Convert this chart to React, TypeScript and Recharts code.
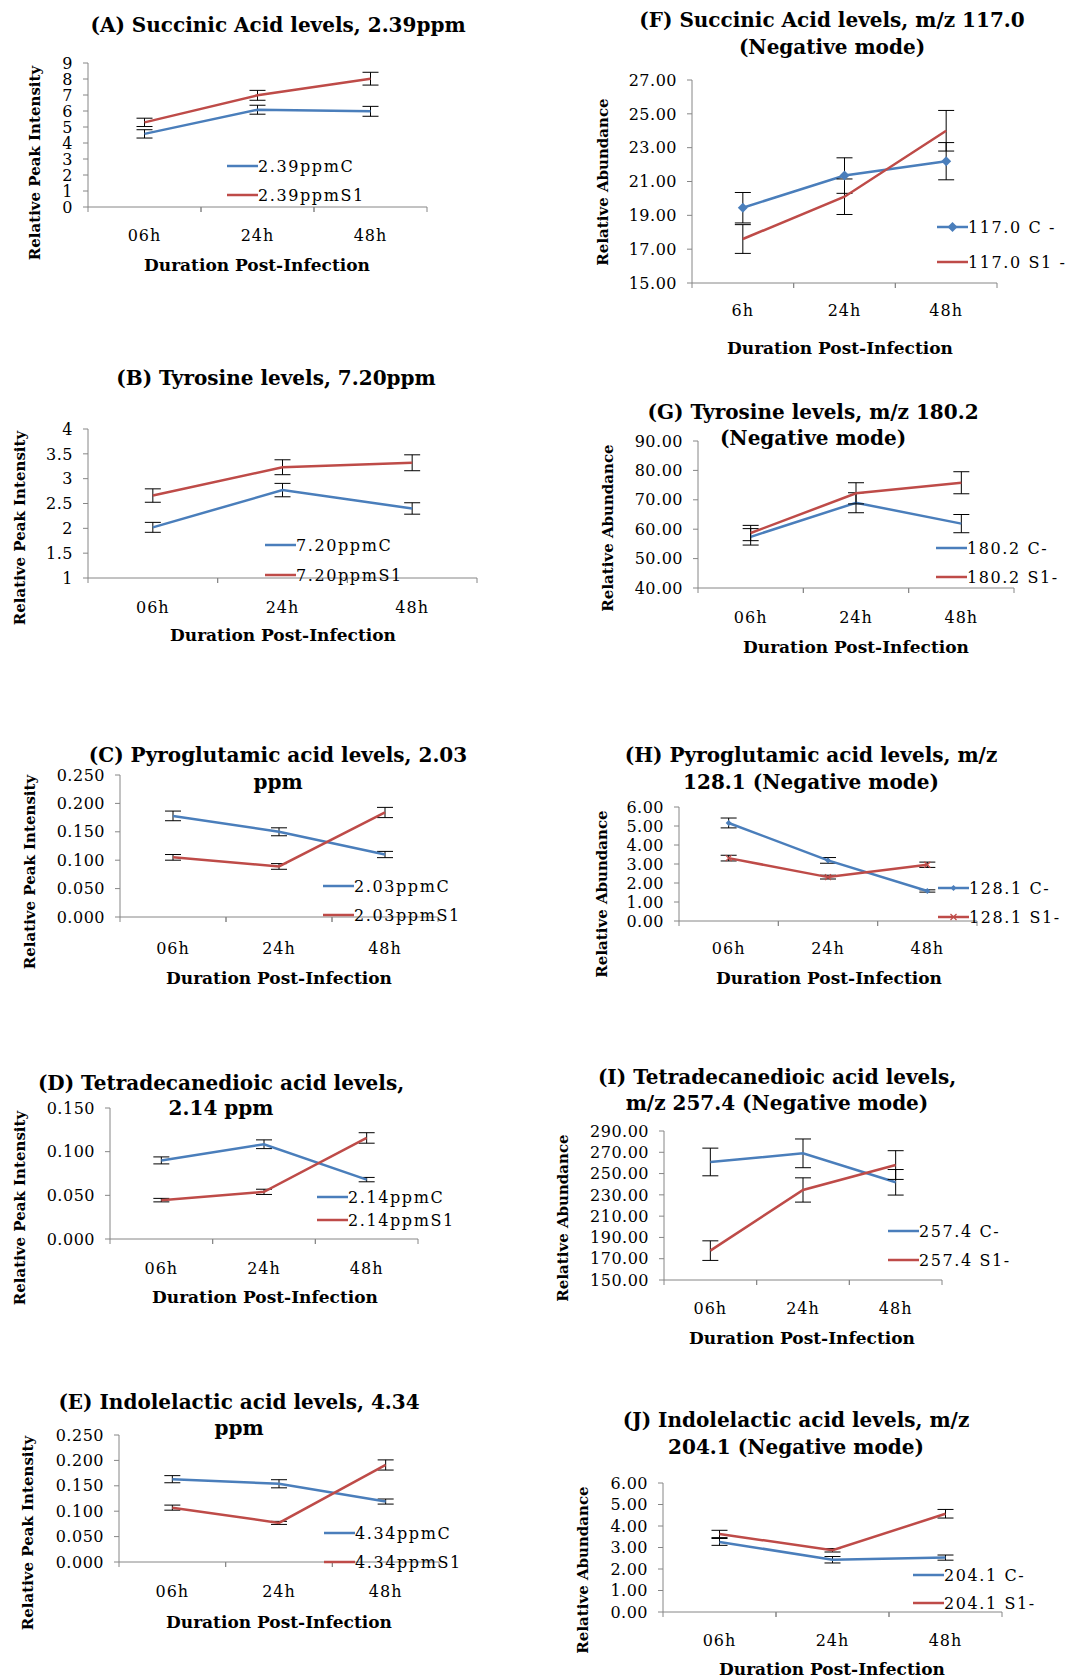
import { ErrorBar, Legend, Line, LineChart, XAxis, YAxis } from "recharts";

const BLUE = "#4a7ebb";
const RED = "#be4b48";
const AXIS = "#868686";
const FONT = "'DejaVu Serif', serif";

// time points
const hours = ["06h", "24h", "48h"];
const hoursF = ["6h", "24h", "48h"];

// (A) Succinic acid, 2.39ppm
const aTicks = [0, 1, 2, 3, 4, 5, 6, 7, 8, 9];
const aC = [4.57, 6.08, 5.98];
const aCErr = [0.26, 0.28, 0.31];
const aS1 = [5.29, 6.98, 8.02];
const aS1Err = [0.26, 0.31, 0.4];

// (F) Succinic acid, m/z 117.0
const fTicks = [15, 17, 19, 21, 23, 25, 27];
const fC = [19.45, 21.35, 22.2];
const fCErr = [0.9, 1.05, 1.1];
const fS1 = [17.6, 20.1, 24.0];
const fS1Err = [0.85, 1.05, 1.2];

// (B) Tyrosine, 7.20ppm
const bTicks = [1, 1.5, 2, 2.5, 3, 3.5, 4];
const bC = [2.02, 2.77, 2.4];
const bCErr = [0.1, 0.135, 0.115];
const bS1 = [2.66, 3.23, 3.32];
const bS1Err = [0.135, 0.15, 0.16];

// (G) Tyrosine, m/z 180.2
const gTicks = [40, 50, 60, 70, 80, 90];
const gC = [57.4, 69.0, 61.9];
const gCErr = [2.8, 3.4, 3.1];
const gS1 = [58.7, 72.2, 75.8];
const gS1Err = [2.6, 3.6, 3.75];

// (C) Pyroglutamic acid, 2.03ppm
const cTicks = [0, 0.05, 0.1, 0.15, 0.2, 0.25];
const cC = [0.178, 0.15, 0.11];
const cCErr = [0.0085, 0.007, 0.0055];
const cS1 = [0.105, 0.089, 0.184];
const cS1Err = [0.005, 0.005, 0.009];

// (H) Pyroglutamic acid, m/z 128.1
const hTicks = [0, 1, 2, 3, 4, 5, 6];
const hC = [5.16, 3.19, 1.58];
const hCErr = [0.26, 0.15, 0.06];
const hS1 = [3.31, 2.31, 2.96];
const hS1Err = [0.15, 0.1, 0.14];

// (D) Tetradecanedioic acid, 2.14 ppm
const dTicks = [0, 0.05, 0.1, 0.15];
const dC = [0.09, 0.1085, 0.068];
const dCErr = [0.004, 0.005, 0.0025];
const dS1 = [0.0445, 0.054, 0.1157];
const dS1Err = [0.002, 0.003, 0.006];

// (I) Tetradecanedioic acid, m/z 257.4
const iTicks = [150, 170, 190, 210, 230, 250, 270, 290];
const iC = [260.9, 269.0, 241.8];
const iCErr = [13.0, 13.5, 12.0];
const iS1 = [177.6, 234.6, 258.0];
const iS1Err = [9.2, 11.4, 13.5];

// (E) Indolelactic acid, 4.34 ppm
const eTicks = [0, 0.05, 0.1, 0.15, 0.2, 0.25];
const eC = [0.163, 0.154, 0.119];
const eCErr = [0.007, 0.008, 0.005];
const eS1 = [0.107, 0.077, 0.191];
const eS1Err = [0.005, 0.003, 0.01];

// (J) Indolelactic acid, m/z 204.1
const jTicks = [0, 1, 2, 3, 4, 5, 6];
const jC = [3.26, 2.43, 2.53];
const jCErr = [0.16, 0.15, 0.12];
const jS1 = [3.63, 2.87, 4.57];
const jS1Err = [0.17, 0.08, 0.2];

const Y_W = 80;
const M_TOP = 10;
const X_H = 40;
const M_RIGHT = 10;

const panels: any[] = [
  {
    title: ["(A) Succinic Acid levels, 2.39ppm"], tx: 278, ty: [25],
    cats: hours, c: aC, cErr: aCErr, s: aS1, sErr: aS1Err,
    names: ["2.39ppmC", "2.39ppmS1"], ticks: aTicks, dec: -1,
    box: [88, 63, 427, 207], yLab: ["Relative Peak Intensity", 35, 163], xLab: [257, 265],
    tickDy: 28, legend: [227, 166, 29],
  },
  {
    title: ["(F) Succinic Acid levels, m/z 117.0", "(Negative mode)"], tx: 832, ty: [20, 47],
    cats: hoursF, c: fC, cErr: fCErr, s: fS1, sErr: fS1Err,
    names: ["117.0 C -", "117.0 S1 -"], ticks: fTicks, dec: 2,
    box: [692, 80, 997, 283], yLab: ["Relative Abundance", 603, 182], xLab: [840, 348],
    tickDy: 27, legend: [937, 227, 35], marker: "diamond",
  },
  {
    title: ["(B) Tyrosine levels, 7.20ppm"], tx: 276, ty: [378],
    cats: hours, c: bC, cErr: bCErr, s: bS1, sErr: bS1Err,
    names: ["7.20ppmC", "7.20ppmS1"], ticks: bTicks, dec: -1,
    box: [88, 429, 477, 578], yLab: ["Relative Peak Intensity", 20, 528], xLab: [283, 635],
    tickDy: 29, legend: [265, 545, 30],
  },
  {
    title: ["(G) Tyrosine levels, m/z 180.2", "(Negative mode)"], tx: 813, ty: [412, 438],
    cats: hours, c: gC, cErr: gCErr, s: gS1, sErr: gS1Err,
    names: ["180.2 C-", "180.2 S1-"], ticks: gTicks, dec: 2,
    box: [698, 441, 1014, 588], yLab: ["Relative Abundance", 608, 528], xLab: [856, 647],
    tickDy: 29, legend: [936, 548, 29],
  },
  {
    title: ["(C) Pyroglutamic acid levels, 2.03", "ppm"], tx: 278, ty: [755, 782],
    cats: hours, c: cC, cErr: cCErr, s: cS1, sErr: cS1Err,
    names: ["2.03ppmC", "2.03ppmS1"], ticks: cTicks, dec: 3,
    box: [120, 775, 438, 917], yLab: ["Relative Peak Intensity", 30, 872], xLab: [279, 978],
    tickDy: 31, legend: [323, 886, 29],
  },
  {
    title: ["(H) Pyroglutamic acid levels, m/z", "128.1 (Negative mode)"], tx: 811, ty: [755, 782],
    cats: hours, c: hC, cErr: hCErr, s: hS1, sErr: hS1Err,
    names: ["128.1 C-", "128.1 S1-"], ticks: hTicks, dec: 2,
    box: [679, 807, 977, 921], yLab: ["Relative Abundance", 602, 894], xLab: [829, 978],
    tickDy: 27, legend: [938, 888, 29], marker: "small",
  },
  {
    title: ["(D) Tetradecanedioic acid levels,", "2.14 ppm"], tx: 221, ty: [1083, 1108],
    cats: hours, c: dC, cErr: dCErr, s: dS1, sErr: dS1Err,
    names: ["2.14ppmC", "2.14ppmS1"], ticks: dTicks, dec: 3,
    box: [110, 1108, 418, 1239], yLab: ["Relative Peak Intensity", 20, 1208], xLab: [265, 1297],
    tickDy: 29, legend: [317, 1197, 23],
  },
  {
    title: ["(I) Tetradecanedioic acid levels,", "m/z 257.4 (Negative mode)"], tx: 777, ty: [1077, 1103],
    cats: hours, c: iC, cErr: iCErr, s: iS1, sErr: iS1Err,
    names: ["257.4 C-", "257.4 S1-"], ticks: iTicks, dec: 2,
    box: [664, 1131, 942, 1280], yLab: ["Relative Abundance", 563, 1218], xLab: [802, 1338],
    tickDy: 28, legend: [888, 1231, 29],
  },
  {
    title: ["(E) Indolelactic acid levels, 4.34", "ppm"], tx: 239, ty: [1402, 1428],
    cats: hours, c: eC, cErr: eCErr, s: eS1, sErr: eS1Err,
    names: ["4.34ppmC", "4.34ppmS1"], ticks: eTicks, dec: 3,
    box: [119, 1435, 439, 1562], yLab: ["Relative Peak Intensity", 28, 1533], xLab: [279, 1622],
    tickDy: 29, legend: [324, 1533, 29],
  },
  {
    title: ["(J) Indolelactic acid levels, m/z", "204.1 (Negative mode)"], tx: 796, ty: [1420, 1447],
    cats: hours, c: jC, cErr: jCErr, s: jS1, sErr: jS1Err,
    names: ["204.1 C-", "204.1 S1-"], ticks: jTicks, dec: 2,
    box: [663, 1483, 1002, 1612], yLab: ["Relative Abundance", 583, 1570], xLab: [832, 1669],
    tickDy: 28, legend: [913, 1575, 28],
  },
];

const markerShape = (kind: string, series: number, cx: number, cy: number, key?: any) => {
  if (kind === "diamond" && series === 0) {
    const r = 5;
    return <path key={key} d={`M${cx},${cy - r}L${cx + r},${cy}L${cx},${cy + r}L${cx - r},${cy}Z`} fill={BLUE} />;
  }
  if (kind === "small") {
    const r = 3;
    if (series === 0)
      return <path key={key} d={`M${cx},${cy - r}L${cx + r},${cy}L${cx},${cy + r}L${cx - r},${cy}Z`} fill={BLUE} />;
    return (
      <path key={key} d={`M${cx - r},${cy - r}L${cx + r},${cy + r}M${cx - r},${cy + r}L${cx + r},${cy - r}`} stroke={RED} strokeWidth={1.2} fill="none" />
    );
  }
  return <g key={key} />;
};

const LegendBox = ({ payload, gap, marker }: any) => (
  <div style={{ fontFamily: FONT, fontSize: 16, letterSpacing: 1.6, color: "#000" }}>
    {(payload || []).map((e: any, i: number) => (
      <div key={i} style={{ height: gap, display: "flex", alignItems: "center", whiteSpace: "nowrap" }}>
        <svg width={31} height={12} style={{ flex: "none" }}>
          <line x1={0} x2={31} y1={6} y2={6} stroke={e.color} strokeWidth={2.5} />
          {marker ? markerShape(marker, i, 15.5, 6) : null}
        </svg>
        <span>{e.value}</span>
      </div>
    ))}
  </div>
);

const Panel = ({ p }: any) => {
  const [l, t, r, b] = p.box;
  const plotW = r - l;
  const plotH = b - t;
  const left = l - Y_W;
  const top = t - M_TOP;
  const width = Y_W + plotW + M_RIGHT;
  const height = M_TOP + plotH + X_H;
  const bw = plotW / p.cats.length;
  const baseY = M_TOP + plotH;
  const data = p.cats.map((h: string, i: number) => ({
    x: i + 0.5,
    h,
    c: p.c[i],
    cErr: p.cErr[i],
    s: p.s[i],
    sErr: p.sErr[i],
  }));

  const xTick = (props: any) => {
    const { x, payload, index } = props;
    const i = Math.round(payload.value - 0.5);
    return (
      <g key={index}>
        <line x1={x - bw / 2} x2={x - bw / 2} y1={baseY} y2={baseY + 5} stroke={AXIS} />
        <line x1={x + bw / 2} x2={x + bw / 2} y1={baseY} y2={baseY + 5} stroke={AXIS} />
        <text x={x} y={baseY + p.tickDy} textAnchor="middle" dominantBaseline="central"
          style={{ fontFamily: FONT, fontSize: 16, letterSpacing: 1 }} fill="#000">
          {p.cats[i]}
        </text>
      </g>
    );
  };

  const dot = (series: number) =>
    p.marker
      ? (props: any) => (props.cx == null ? <g key={props.index} /> : markerShape(p.marker, series, props.cx, props.cy, props.index))
      : false;

  const centered: any = { position: "absolute", transform: "translate(-50%, -50%)", whiteSpace: "nowrap", fontFamily: FONT };

  return (
    <>
      {p.title.map((line: string, i: number) => (
        <div key={i} style={{ ...centered, left: p.tx, top: p.ty[i], fontSize: 20, fontWeight: "bold" }}>
          {line}
        </div>
      ))}
      <div style={{ ...centered, left: p.yLab[1], top: p.yLab[2], fontSize: 15, fontWeight: "bold", transform: "translate(-50%, -50%) rotate(-90deg)" }}>
        {p.yLab[0]}
      </div>
      <div style={{ ...centered, left: p.xLab[0], top: p.xLab[1], fontSize: 17, fontWeight: "bold" }}>
        Duration Post-Infection
      </div>
      <div style={{ position: "absolute", left, top }}>
        <LineChart width={width} height={height} data={data} margin={{ top: M_TOP, right: M_RIGHT, left: 0, bottom: 0 }}>
          <XAxis dataKey="x" type="number" domain={[0, p.cats.length]} ticks={[0.5, 1.5, 2.5]} interval={0}
            height={X_H} tickLine={false} axisLine={{ stroke: AXIS }} tick={xTick} />
          <YAxis type="number" domain={[p.ticks[0], p.ticks[p.ticks.length - 1]]} ticks={p.ticks} interval={0}
            width={Y_W} tickSize={5} tickMargin={10} tickLine={{ stroke: AXIS }} axisLine={{ stroke: AXIS }}
            allowDataOverflow
            tick={{ fill: "#000", fontSize: 16, fontFamily: FONT, letterSpacing: 0.5 } as any}
            tickFormatter={(v: number) => (p.dec < 0 ? String(v) : v.toFixed(p.dec))} />
          <Legend layout="vertical" align="center" verticalAlign="middle"
            wrapperStyle={{ left: p.legend[0] - left, top: p.legend[1] - top - p.legend[2] / 2, width: "auto", height: "auto" }}
            content={(props: any) => <LegendBox payload={props.payload} gap={p.legend[2]} marker={p.marker} />} />
          <Line dataKey="c" name={p.names[0]} stroke={BLUE} strokeWidth={2.5} dot={dot(0)} activeDot={false} isAnimationActive={false}>
            <ErrorBar dataKey="cErr" width={8} stroke="#000" strokeWidth={1} />
          </Line>
          <Line dataKey="s" name={p.names[1]} stroke={RED} strokeWidth={2.5} dot={dot(1)} activeDot={false} isAnimationActive={false}>
            <ErrorBar dataKey="sErr" width={8} stroke="#000" strokeWidth={1} />
          </Line>
        </LineChart>
      </div>
    </>
  );
};

export default function App() {
  return (
    <div style={{ position: "absolute", left: 0, top: 0, width: 1069, height: 1679, overflow: "hidden", background: "#fff" }}>
      {panels.map((p, i) => (
        <Panel key={i} p={p} />
      ))}
    </div>
  );
}
